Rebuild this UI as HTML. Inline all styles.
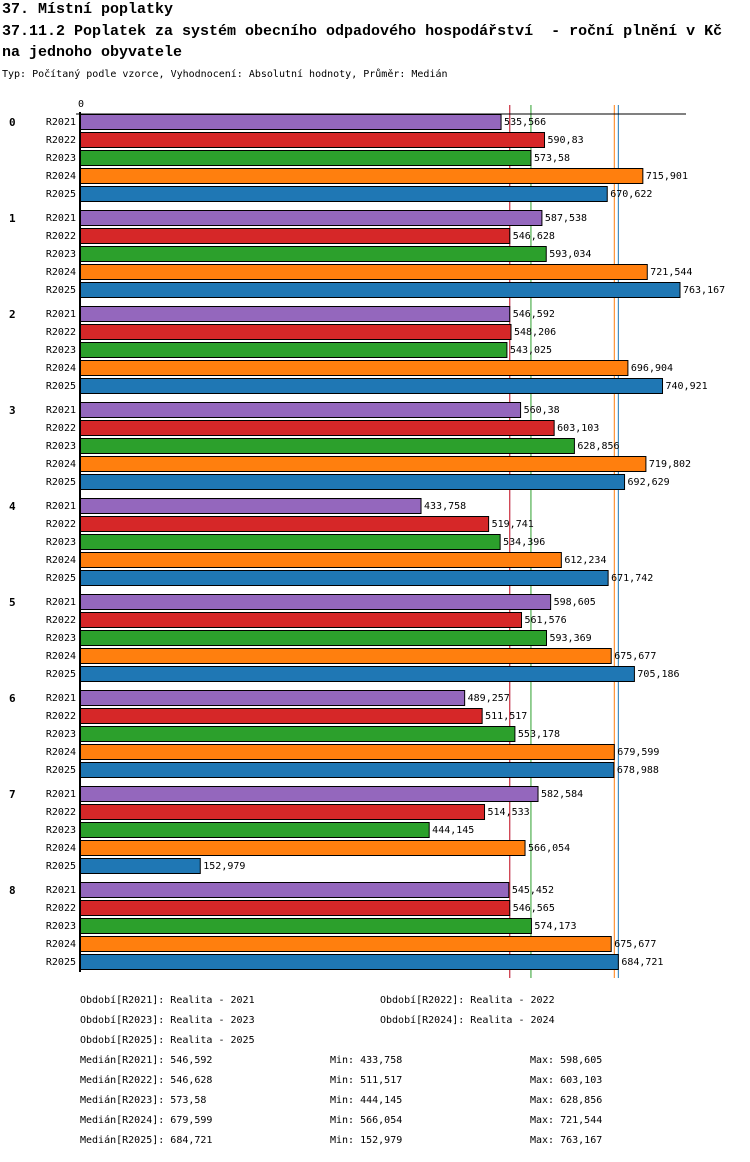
<!DOCTYPE html>
<html><head><meta charset="utf-8"><style>
body{margin:0;background:#fff;width:750px;height:1158px;overflow:hidden;font-family:"DejaVu Sans Mono","Liberation Mono",monospace;}
</style></head><body>
<svg width="750" height="1158" xmlns="http://www.w3.org/2000/svg" id="chart" font-family="DejaVu Sans Mono, Liberation Mono, monospace">
<text x="2" y="13" font-size="15" font-weight="bold" font-family="Liberation Mono, monospace">37. Místní poplatky</text>
<text x="2" y="35" font-size="15" font-weight="bold" font-family="Liberation Mono, monospace" xml:space="preserve">37.11.2 Poplatek za systém obecního odpadového hospodářství  - roční plnění v Kč</text>
<text x="2" y="56" font-size="15" font-weight="bold" font-family="Liberation Mono, monospace">na jednoho obyvatele</text>
<text x="2" y="77" font-size="10">Typ: Počítaný podle vzorce, Vyhodnocení: Absolutní hodnoty, Průměr: Medián</text>
<g id="plot"></g>
<g id="legend" font-size="10"></g>
</svg>
<script>
const groups=["0","1","2","3","4","5","6","7","8"];
const series=["R2021","R2022","R2023","R2024","R2025"];
const colors=["#9467bd","#d62728","#2ca02c","#ff7f0e","#1f77b4"];
const v2021=[535.566,587.538,546.592,560.38,433.758,598.605,489.257,582.584,545.452];
const v2022=[590.83,546.628,548.206,603.103,519.741,561.576,511.517,514.533,546.565];
const v2023=[573.58,593.034,543.025,628.856,534.396,593.369,553.178,444.145,574.173];
const v2024=[715.901,721.544,696.904,719.802,612.234,675.677,679.599,566.054,675.677];
const v2025=[670.622,763.167,740.921,692.629,671.742,705.186,678.988,152.979,684.721];
const labels2021=["535,566","587,538","546,592","560,38","433,758","598,605","489,257","582,584","545,452"];
const labels2022=["590,83","546,628","548,206","603,103","519,741","561,576","511,517","514,533","546,565"];
const labels2023=["573,58","593,034","543,025","628,856","534,396","593,369","553,178","444,145","574,173"];
const labels2024=["715,901","721,544","696,904","719,802","612,234","675,677","679,599","566,054","675,677"];
const labels2025=["670,622","763,167","740,921","692,629","671,742","705,186","678,988","152,979","684,721"];
const medians=[546.592,546.628,573.58,679.599,684.721];
const mins=["433,758","511,517","444,145","566,054","152,979"];
const maxs=["598,605","603,103","628,856","721,544","763,167"];
const medLabels=["546,592","546,628","573,58","679,599","684,721"];
const periodNames=["Realita - 2021","Realita - 2022","Realita - 2023","Realita - 2024","Realita - 2025"];

const NS="http://www.w3.org/2000/svg";
const x0=80, scale=600/763.167;
const xs=v=>x0+v*scale;
const ys=(g,s)=>114+g*96+s*18;
const vals=[v2021,v2022,v2023,v2024,v2025];
const labs=[labels2021,labels2022,labels2023,labels2024,labels2025];
const plot=document.getElementById('plot');
function mk(tag,attrs,parent,text){const e=document.createElementNS(NS,tag);for(const k in attrs)e.setAttribute(k,attrs[k]);if(text!==undefined)e.textContent=text;parent.appendChild(e);return e;}

medians.forEach((m,i)=>{
  let l=mk('line',{x1:xs(m),x2:xs(m),y1:105,y2:978,stroke:colors[i],'stroke-width':1},plot);
  
  
});
let t=mk('text',{x:78,y:107,'font-size':10},plot,'0');


groups.forEach((g,gi)=>{
  let gl=mk('text',{x:9,y:ys(gi,0)+12,'font-size':11,'font-weight':'bold'},plot,g);
  
  
  series.forEach((s,si)=>{
    const y=ys(gi,si);
    let sl=mk('text',{x:76,y:y+11,'font-size':10,'text-anchor':'end'},plot,s);
    
    
    let r=mk('rect',{x:x0,y:y+0.5,width:xs(vals[si][gi])-x0,height:15,fill:colors[si],stroke:'#000','stroke-width':1},plot);
    
    
    let vl=mk('text',{x:xs(vals[si][gi])+3,y:y+11,'font-size':10},plot,labs[si][gi]);
    
    
  });
});
let ax=mk('line',{x1:80,x2:80,y1:112,y2:972,stroke:'#000','stroke-width':2},plot);


let hx=mk('line',{x1:76,x2:686,y1:114,y2:114,stroke:'#000','stroke-width':1},plot);



const lg=document.getElementById('legend');
series.forEach((s,i)=>{
  const x=i%2?380:80, y=1003+Math.floor(i/2)*20;
  let e=mk('text',{x:x,y:y},lg,'Období['+s+']: '+periodNames[i]);
  
  
});
series.forEach((s,i)=>{
  const y=1063+i*20;
  let a=mk('text',{x:80,y:y},lg,'Medián['+s+']: '+medLabels[i]);
  
  
  let b=mk('text',{x:330,y:y},lg,'Min: '+mins[i]);
  
  
  let c=mk('text',{x:530,y:y},lg,'Max: '+maxs[i]);
  
  
});
</script>
</body></html>
